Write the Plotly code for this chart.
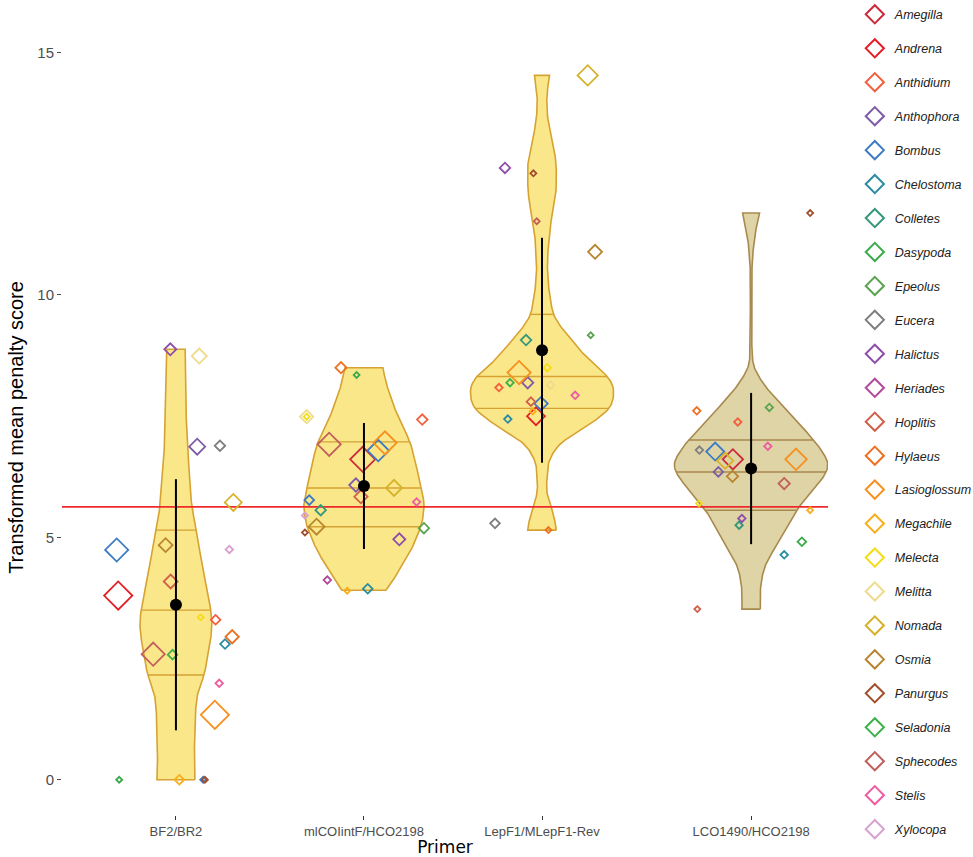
import numpy as np
import plotly.graph_objects as go

# ---------------- data ----------------
primers = ["BF2/BR2", "mlCOIintF/HCO2198", "LepF1/MLepF1-Rev", "LCO1490/HCO2198"]
primer_x = [1.0, 2.0, 2.947, 4.059]

genera = ["Amegilla", "Andrena", "Anthidium", "Anthophora", "Bombus", "Chelostoma",
          "Colletes", "Dasypoda", "Epeolus", "Eucera", "Halictus", "Heriades",
          "Hoplitis", "Hylaeus", "Lasioglossum", "Megachile", "Melecta", "Melitta",
          "Nomada", "Osmia", "Panurgus", "Seladonia", "Sphecodes", "Stelis", "Xylocopa"]
genus_colors = ["#CC2A3A", "#E41E26", "#F2603F", "#7E5BA6", "#3B7BC4", "#2A8CA3",
                "#35987A", "#3BAA4C", "#5AA34F", "#7F7F7F", "#8E4DAA", "#B2499B",
                "#D0604A", "#EE7122", "#F7901E", "#F9AE1B", "#F5DC14", "#EEDB8C",
                "#D6B22A", "#B8852E", "#A2502C", "#3DB14A", "#C0605C", "#EE5DA2", "#D9A0CF"]

# per-primer genus scores (transformed mean penalty), jitter offsets and record counts
bf2_genus = ["Halictus", "Melitta", "Anthophora", "Eucera", "Nomada", "Bombus", "Xylocopa",
             "Osmia", "Hoplitis", "Andrena", "Melecta", "Anthidium", "Hylaeus", "Chelostoma",
             "Sphecodes", "Seladonia", "Stelis", "Lasioglossum", "Dasypoda", "Megachile",
             "Bombus", "Panurgus"]
bf2_score = [8.88, 8.74, 6.87, 6.89, 5.72, 4.74, 4.75, 4.84, 4.09, 3.80, 3.35, 3.30, 2.95,
             2.80, 2.59, 2.58, 1.99, 1.34, 0.0, 0.0, 0.0, 0.0]
bf2_jitter = [-0.03, 0.124, 0.113, 0.234, 0.305, -0.315, 0.284, -0.055, -0.028, -0.307,
              0.131, 0.211, 0.299, 0.261, -0.121, -0.018, 0.230, 0.207, -0.302, 0.018,
              0.145, 0.154]
bf2_n = [7, 12, 14, 5, 16, 32, 2, 10, 10, 49, 1, 4, 9, 4, 32, 4, 2, 49, 1, 4, 1, 1]

mlc_genus = ["Hylaeus", "Dasypoda", "Melitta", "Melecta", "Anthidium", "Sphecodes",
             "Lasioglossum", "Bombus", "Amegilla", "Anthophora", "Nomada", "Hoplitis",
             "Bombus", "Stelis", "Colletes", "Xylocopa", "Osmia", "Epeolus", "Panurgus",
             "Halictus", "Heriades", "Megachile", "Chelostoma"]
mlc_score = [8.50, 8.35, 7.49, 7.49, 7.43, 6.92, 6.95, 6.79, 6.61, 6.08, 6.02, 5.84, 5.77,
             5.73, 5.56, 5.45, 5.22, 5.19, 5.10, 4.96, 4.12, 3.90, 3.94]
mlc_jitter = [-0.122, -0.039, -0.305, -0.305, 0.310, -0.185, 0.112, 0.076, -0.007, -0.043,
              0.160, -0.016, -0.291, 0.280, -0.230, -0.314, -0.252, 0.319, -0.314, 0.188,
              -0.195, -0.089, 0.020]
mlc_n = [6, 1, 9, 1, 5, 32, 32, 27, 38, 9, 14, 9, 4, 2, 5, 1, 14, 5, 1, 7, 2, 1, 4]

lep_genus = ["Nomada", "Halictus", "Panurgus", "Sphecodes", "Osmia", "Epeolus", "Colletes",
             "Lasioglossum", "Melecta", "Anthophora", "Seladonia", "Anthidium", "Melitta",
             "Stelis", "Hoplitis", "Bombus", "Megachile", "Andrena", "Chelostoma", "Eucera",
             "Hylaeus"]
lep_score = [14.53, 12.62, 12.51, 11.52, 10.89, 9.17, 9.07, 8.40, 8.50, 8.19, 8.19, 8.09,
             8.14, 7.93, 7.80, 7.76, 7.60, 7.50, 7.44, 5.29, 5.15]
lep_jitter = [0.243, -0.197, -0.046, -0.028, 0.282, 0.259, -0.085, -0.122, 0.028, -0.076,
              -0.170, -0.229, 0.046, 0.176, -0.059, -0.005, -0.049, -0.032, -0.182, -0.250,
              0.034]
lep_n = [24, 5, 1, 1, 10, 1, 5, 32, 2, 6, 2, 2, 2, 2, 3, 9, 1, 18, 2, 4, 1]

lco_genus = ["Panurgus", "Hylaeus", "Epeolus", "Anthidium", "Eucera", "Stelis", "Bombus",
             "Amegilla", "Nomada", "Lasioglossum", "Anthophora", "Osmia", "Sphecodes",
             "Melecta", "Megachile", "Halictus", "Colletes", "Dasypoda", "Chelostoma",
             "Hoplitis"]
lco_score = [11.69, 7.61, 7.68, 7.38, 6.80, 6.88, 6.77, 6.61, 6.58, 6.61, 6.35, 6.26, 6.11,
             5.70, 5.56, 5.39, 5.25, 4.91, 4.64, 3.52]
lco_jitter = [0.314, -0.289, 0.097, -0.071, -0.275, 0.089, -0.191, -0.097, -0.138, 0.239,
              -0.174, -0.099, 0.176, -0.277, 0.314, -0.049, -0.064, 0.270, 0.176, -0.286]
lco_n = [1, 2, 2, 2, 2, 2, 18, 24, 14, 27, 4, 6, 6, 1, 1, 2, 2, 3, 2, 1]

# kernel density profiles (score level, scaled density) for each primer
bf2_dens_y = [0, 0.35, 1.0, 1.7, 2.16, 2.4, 3.09, 3.5, 4.47, 5.15, 5.63, 6.18, 7.21, 8.88]
bf2_dens = [0.101, 0.098, 0.101, 0.112, 0.149, 0.162, 0.190, 0.185, 0.137, 0.109, 0.085,
            0.074, 0.057, 0.049]
mlc_dens_y = [3.91, 4.05, 4.39, 4.74, 5.22, 5.43, 5.71, 6.02, 6.46, 6.97, 7.49, 8.17, 8.50]
mlc_dens = [0.117, 0.144, 0.197, 0.250, 0.302, 0.314, 0.319, 0.303, 0.279, 0.244, 0.181,
            0.119, 0.101]
lep_dens_y = [5.15, 5.22, 5.56, 5.91, 6.25, 6.59, 6.94, 7.28, 7.66, 8.04, 8.32, 8.65, 9.00,
              9.34, 9.60, 10.03, 10.37, 10.71, 11.06, 11.40, 11.75, 12.09, 12.43, 12.78,
              13.12, 13.46, 13.80, 14.15, 14.53]
lep_dens = [0.076, 0.074, 0.055, 0.027, 0.027, 0.040, 0.101, 0.234, 0.355, 0.380, 0.346,
            0.253, 0.173, 0.101, 0.062, 0.040, 0.031, 0.029, 0.035, 0.043, 0.059, 0.073,
            0.076, 0.073, 0.055, 0.037, 0.027, 0.027, 0.040]
lco_dens_y = [3.52, 3.71, 4.05, 4.40, 4.74, 5.08, 5.56, 5.98, 6.35, 6.59, 7.01, 7.49, 7.83,
              8.17, 8.52, 8.86, 9.20, 9.89, 10.58, 10.92, 11.27, 11.69]
lco_dens = [0.049, 0.048, 0.053, 0.074, 0.120, 0.173, 0.242, 0.332, 0.399, 0.403, 0.332,
            0.218, 0.138, 0.066, 0.016, 0.005, 0.004, 0.004, 0.005, 0.011, 0.022, 0.045]

# quartiles (25/50/75 %), mean and standard deviation per primer
quartiles = [[2.16, 3.50, 5.15], [5.22, 6.02, 6.97], [7.66, 8.32, 9.60], [5.56, 6.35, 7.01]]
means = [3.61, 6.06, 8.86, 6.42]
sds = [2.59, 1.30, 2.32, 1.56]

threshold = 5.63

# ---------------- styling ----------------
violin_fill = ["#FAE78A", "#FAE78A", "#FAE78A", "#DFD4A6"]
violin_line = ["#D6A232", "#D6A232", "#D6A232", "#A8894E"]
X_RANGE = [0.394, 4.468]
Y_RANGE = [-0.727, 15.26]


def smooth_profile(yv, dv, n=300):
    """Cubic Hermite interpolation of a density profile."""
    yv = np.asarray(yv, float)
    dv = np.asarray(dv, float)
    m = np.zeros_like(dv)
    m[1:-1] = (dv[2:] - dv[:-2]) / (yv[2:] - yv[:-2])
    m[0] = (dv[1] - dv[0]) / (yv[1] - yv[0])
    m[-1] = (dv[-1] - dv[-2]) / (yv[-1] - yv[-2])
    grid = np.linspace(yv[0], yv[-1], n)
    idx = np.clip(np.searchsorted(yv, grid, side="right") - 1, 0, len(yv) - 2)
    h = yv[idx + 1] - yv[idx]
    t = (grid - yv[idx]) / h
    h00 = 2 * t**3 - 3 * t**2 + 1
    h10 = t**3 - 2 * t**2 + t
    h01 = -2 * t**3 + 3 * t**2
    h11 = t**3 - t**2
    res = h00 * dv[idx] + h10 * h * m[idx] + h01 * dv[idx + 1] + h11 * h * m[idx + 1]
    return grid, np.maximum(res, 0.003)


def point_size(n):
    return 1.7 + 2.85 * np.sqrt(np.asarray(n, float))


fig = go.Figure()

# violins with quartile lines
profiles = [(bf2_dens_y, bf2_dens), (mlc_dens_y, mlc_dens),
            (lep_dens_y, lep_dens), (lco_dens_y, lco_dens)]
for i, (yv, dv) in enumerate(profiles):
    g, w = smooth_profile(yv, dv)
    cx = primer_x[i]
    xs = np.concatenate([cx + w, (cx - w)[::-1], [cx + w[0]]])
    ys = np.concatenate([g, g[::-1], [g[0]]])
    fig.add_trace(go.Scatter(x=xs, y=ys, mode="lines", fill="toself",
                             fillcolor=violin_fill[i],
                             line=dict(color=violin_line[i], width=1.6),
                             hoverinfo="skip", showlegend=False))
    qx, qy = [], []
    for q in quartiles[i]:
        hw = np.interp(q, g, w)
        qx += [cx - hw, cx + hw, None]
        qy += [q, q, None]
    fig.add_trace(go.Scatter(x=qx, y=qy, mode="lines",
                             line=dict(color=violin_line[i], width=1.4),
                             hoverinfo="skip", showlegend=False))

# reference threshold
fig.add_trace(go.Scatter(x=X_RANGE, y=[threshold, threshold], mode="lines",
                         line=dict(color="#EE2A2A", width=1.6),
                         hoverinfo="skip", showlegend=False))

# jittered genus points
groups = [(bf2_genus, bf2_score, bf2_jitter, bf2_n),
          (mlc_genus, mlc_score, mlc_jitter, mlc_n),
          (lep_genus, lep_score, lep_jitter, lep_n),
          (lco_genus, lco_score, lco_jitter, lco_n)]
for gname, col in zip(genera, genus_colors):
    px_, py_, ps_ = [], [], []
    for i, (gl, sl, jl, nl) in enumerate(groups):
        for gg, s, j, n in zip(gl, sl, jl, nl):
            if gg == gname:
                px_.append(primer_x[i] + j)
                py_.append(s)
                ps_.append(n)
    if px_:
        fig.add_trace(go.Scatter(x=px_, y=py_, mode="markers", name=gname,
                                 legendgroup=gname, showlegend=False,
                                 marker=dict(symbol="diamond-open", color=col, opacity=1,
                                             size=point_size(ps_),
                                             line=dict(width=1.8, color=col))))
    # legend key
    fig.add_trace(go.Scatter(x=[None], y=[None], mode="markers",
                             name=f"<i>{gname}</i>", legendgroup=gname,
                             marker=dict(symbol="diamond-open", color=col, size=14,
                                         opacity=1, line=dict(width=2, color=col))))

# mean +/- sd
ex, ey = [], []
for cx, m, s in zip(primer_x, means, sds):
    ex += [cx, cx, None]
    ey += [m - s, m + s, None]
fig.add_trace(go.Scatter(x=ex, y=ey, mode="lines", line=dict(color="black", width=2),
                         hoverinfo="skip", showlegend=False))
fig.add_trace(go.Scatter(x=primer_x, y=means, mode="markers",
                         marker=dict(color="black", size=12),
                         hoverinfo="skip", showlegend=False))

fig.update_layout(
    width=973, height=857,
    margin=dict(l=62, r=145, t=40, b=42, autoexpand=False),
    plot_bgcolor="white", paper_bgcolor="white",
    font=dict(family="Liberation Sans, Arial, sans-serif"),
    legend=dict(x=1.035, y=1.052, xanchor="left", yanchor="top",
                traceorder="grouped", tracegroupgap=14.7, maxheight=1000,
                font=dict(size=12.5, color="#222222"),
                bgcolor="rgba(0,0,0,0)"),
    xaxis=dict(range=X_RANGE, tickvals=primer_x, ticktext=primers,
               showgrid=False, zeroline=False, showline=False,
               ticks="outside", ticklen=4, tickwidth=1.2, tickcolor="#333333",
               tickfont=dict(size=13, color="#4d4d4d"),
               title=dict(text="Primer", standoff=6,
                          font=dict(family="DejaVu Sans", size=17, color="black"))),
    yaxis=dict(range=Y_RANGE, tickvals=[0, 5, 10, 15],
               showgrid=False, zeroline=False, showline=False,
               ticks="outside", ticklen=4, tickwidth=1.2, tickcolor="#4d4d4d",
               tickfont=dict(size=15, color="#4d4d4d"),
               title=dict(text="Transformed mean penalty score", standoff=8,
                          font=dict(size=20, color="black"))),
)

fig.write_html("out.html")
